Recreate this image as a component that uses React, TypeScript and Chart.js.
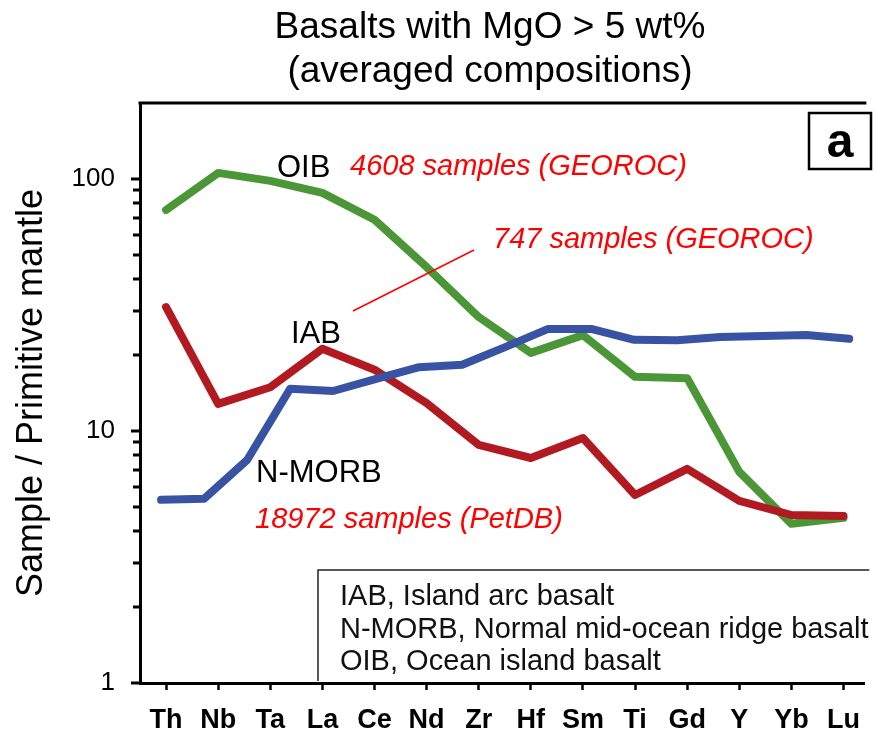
import React, { useEffect, useRef } from 'react';
import { Chart, registerables } from 'chart.js';

Chart.register(...registerables);

const FONT = '"Liberation Sans", Arial, Helvetica, sans-serif';

const elements = ['Th', 'Nb', 'Ta', 'La', 'Ce', 'Nd', 'Zr', 'Hf', 'Sm', 'Ti', 'Gd', 'Y', 'Yb', 'Lu'];
const oibValues = [75.3, 105.6, 98.2, 88.0, 68.8, 44.7, 28.3, 20.4, 24.0, 16.4, 16.2, 6.88, 4.28, 4.52];
const iabValues = [31.0, 12.8, 14.9, 21.2, 17.5, 12.9, 8.8, 7.81, 9.38, 5.57, 7.07, 5.28, 4.64, 4.6];
const morbPositions = [-0.095, 0.73, 1.556, 2.381, 3.206, 4.032, 4.857, 5.682, 6.507, 7.333, 8.158, 8.983, 9.809, 10.634, 11.459, 12.285, 13.11];
const morbValues = [5.33, 5.38, 7.67, 14.7, 14.4, 16.1, 17.9, 18.3, 21.5, 25.4, 25.4, 23.0, 22.9, 23.6, 23.8, 24.0, 23.2];

const yMajorTicks = [1, 10, 100];
const yMinorTicks = [2, 3, 4, 5, 6, 7, 8, 9, 20, 30, 40, 50, 60, 70, 80, 90];

const chartTitle = ['Basalts with MgO > 5 wt%', '(averaged compositions)'];
const yAxisTitle = 'Sample / Primitive mantle';
const legendLines = ['IAB, Island arc basalt', 'N-MORB, Normal mid-ocean ridge basalt', 'OIB, Ocean island basalt'];
const panelLetter = 'a';

const GREEN = '#4b9636';
const RED = '#b01a20';
const BLUE = '#3953a4';

const decorPlugin = {
  id: 'decor',
  afterDraw(chart: any) {
    const { ctx, chartArea } = chart;
    const yScale = chart.scales.y;
    ctx.save();
    // top frame line
    ctx.strokeStyle = '#000';
    ctx.lineWidth = 3;
    ctx.beginPath();
    ctx.moveTo(chartArea.left - 1.5, chartArea.top);
    ctx.lineTo(chartArea.right + 2, chartArea.top);
    ctx.stroke();
    // y tick marks
    ctx.lineWidth = 3;
    const drawTick = (v: number, len: number) => {
      const py = Math.round(yScale.getPixelForValue(v));
      ctx.beginPath();
      ctx.moveTo(chartArea.left, py);
      ctx.lineTo(chartArea.left - len, py);
      ctx.stroke();
    };
    yMajorTicks.forEach((v) => drawTick(v, 9));
    yMinorTicks.forEach((v) => drawTick(v, 7));

    // title
    ctx.fillStyle = '#000';
    ctx.textAlign = 'center';
    ctx.textBaseline = 'alphabetic';
    ctx.font = `37px ${FONT}`;
    ctx.fillText(chartTitle[0], 490, 38);
    ctx.fillText(chartTitle[1], 490, 82);

    // series labels
    ctx.textAlign = 'left';
    ctx.font = `31px ${FONT}`;
    ctx.fillText('OIB', 277, 177);
    ctx.fillText('IAB', 291, 343);
    ctx.fillText('N-MORB', 256, 482);

    ctx.fillStyle = '#ff0000';
    ctx.font = `italic 29px ${FONT}`;
    ctx.fillText('4608 samples (GEOROC)', 350, 175);
    ctx.fillText('747 samples (GEOROC)', 493, 248);
    ctx.fillText('18972 samples (PetDB)', 255, 528);

    ctx.strokeStyle = '#ff0000';
    ctx.lineWidth = 1.5;
    ctx.beginPath();
    ctx.moveTo(353, 311);
    ctx.lineTo(474, 250);
    ctx.stroke();

    // legend box
    const bx = 318, by = 570, bBottom = chartArea.bottom - 2;
    ctx.fillStyle = '#fff';
    ctx.fillRect(bx, by, chartArea.right - bx + 5, bBottom - by);
    ctx.strokeStyle = '#222';
    ctx.lineWidth = 1.5;
    ctx.beginPath();
    ctx.moveTo(bx, bBottom);
    ctx.lineTo(bx, by);
    ctx.lineTo(chartArea.right + 5, by);
    ctx.stroke();
    ctx.fillStyle = '#111';
    ctx.font = `29px ${FONT}`;
    ctx.fillText(legendLines[0], 340, 605);
    ctx.fillText(legendLines[1], 340, 637.5);
    ctx.fillText(legendLines[2], 340, 670);

    // panel letter box
    ctx.strokeStyle = '#000';
    ctx.lineWidth = 2.5;
    ctx.strokeRect(809, 113, 62, 56);
    ctx.fillStyle = '#000';
    ctx.textAlign = 'center';
    ctx.font = `bold 48px ${FONT}`;
    ctx.fillText(panelLetter, 840, 157);
    ctx.restore();
  },
};

export default function App() {
  const ref = useRef<HTMLCanvasElement>(null);
  useEffect(() => {
    const lineStyle = {
      borderWidth: 8,
      pointRadius: 0,
      pointHoverRadius: 0,
      fill: false,
      tension: 0,
      borderCapStyle: 'round',
      borderJoinStyle: 'round',
    };
    const chart = new Chart(ref.current as HTMLCanvasElement, {
      type: 'line',
      data: {
        datasets: [
          {
            label: 'N-MORB',
            data: morbPositions.map((x, i) => ({ x, y: morbValues[i] })),
            borderColor: BLUE,
            order: 0,
            ...lineStyle,
          },
          {
            label: 'IAB',
            data: elements.map((_, i) => ({ x: i, y: iabValues[i] })),
            borderColor: RED,
            order: 1,
            ...lineStyle,
          },
          {
            label: 'OIB',
            data: elements.map((_, i) => ({ x: i, y: oibValues[i] })),
            borderColor: GREEN,
            order: 2,
            ...lineStyle,
          },
        ] as any,
      },
      options: {
        responsive: false,
        animation: false,
        devicePixelRatio: 1,
        layout: { padding: { top: 103, left: 0, right: 0, bottom: 0 } },
        plugins: {
          legend: { display: false },
          title: { display: false },
          tooltip: { enabled: false },
        },
        scales: {
          x: {
            type: 'linear',
            min: -0.5,
            max: 13.4,
            afterFit: (s: any) => {
              s.height = 53;
            },
            afterBuildTicks: (s: any) => {
              s.ticks = elements.map((_, i) => ({ value: i }));
            },
            ticks: {
              autoSkip: false,
              maxRotation: 0,
              minRotation: 0,
              padding: 14,
              color: '#000',
              font: { family: FONT, size: 27, weight: 'bold' },
              callback: (v: any) => elements[Math.round(Number(v))] ?? '',
            },
            grid: {
              display: true,
              drawOnChartArea: false,
              drawTicks: true,
              tickLength: 7,
              tickWidth: 2.5,
              tickColor: '#000',
            },
            border: { display: true, color: '#000', width: 3 },
          },
          y: {
            type: 'logarithmic',
            min: 1,
            max: 200,
            afterFit: (s: any) => {
              s.width = 140;
            },
            afterBuildTicks: (s: any) => {
              s.ticks = yMajorTicks.map((v) => ({ value: v, major: true }));
            },
            ticks: {
              padding: 25,
              color: '#000',
              font: { family: FONT, size: 26 },
              callback: (v: any) => String(v),
            },
            grid: { display: false, drawOnChartArea: false, drawTicks: false },
            border: { display: true, color: '#000', width: 3 },
            title: {
              display: true,
              text: yAxisTitle,
              color: '#000',
              font: { family: FONT, size: 36 },
              padding: { top: 10, bottom: 0 },
            },
          },
        },
      } as any,
      plugins: [decorPlugin],
    });
    return () => chart.destroy();
  }, []);
  return (
    <div style={{ position: 'absolute', left: 0, top: 0, width: 874, height: 736, background: '#fff' }}>
      <canvas ref={ref} width={874} height={736} style={{ display: 'block', width: 874, height: 736 }} />
    </div>
  );
}
